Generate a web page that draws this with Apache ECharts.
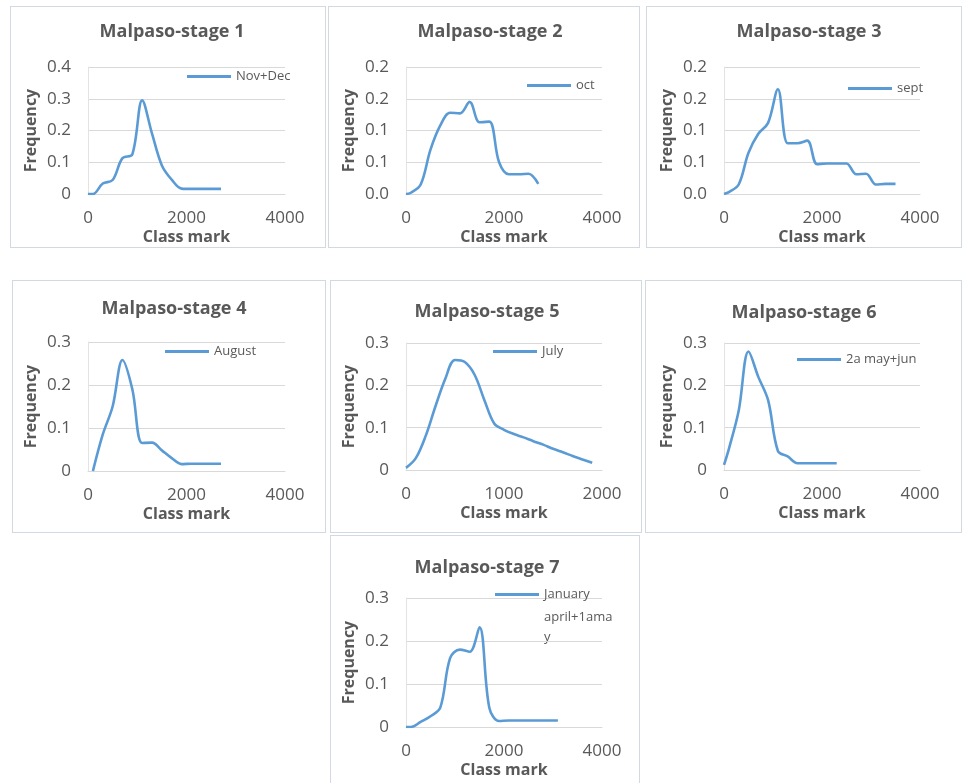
<!DOCTYPE html>
<html><head><meta charset="utf-8">
<script src="https://cdn.jsdelivr.net/npm/echarts@6/dist/echarts.min.js"></script>
<style>
html,body{margin:0;padding:0;background:#fff;}
#wrap{position:relative;width:962px;height:783px;overflow:hidden;}
.panel{position:absolute;border:1px solid #d3d9e1;box-sizing:border-box;background:#fff;}
#chart{position:absolute;left:0;top:0;width:962px;height:783px;}
</style></head>
<body><div id="wrap"><div id="chart"></div></div>
<script>
// ---------- data ----------
const stage1Class = [0, 100, 300, 500, 700, 900, 1100, 1300, 1500, 1700, 1900, 2100, 2300, 2500, 2700];
const stage1Freq  = [0, 0, 0.033, 0.044, 0.113, 0.125, 0.295, 0.19, 0.09, 0.045, 0.017, 0.016, 0.016, 0.016, 0.016];

const stage2Class = [0, 100, 300, 500, 700, 900, 1100, 1300, 1500, 1700, 1900, 2100, 2300, 2500, 2700];
const stage2Freq  = [0, 0.002, 0.015, 0.07, 0.108, 0.128, 0.127, 0.145, 0.113, 0.114, 0.05, 0.031, 0.031, 0.032, 0.016];

const stage3Class = [0, 100, 300, 500, 700, 900, 1100, 1300, 1500, 1700, 1900, 2100, 2300, 2500, 2700, 2900, 3100, 3300, 3500];
const stage3Freq  = [0, 0.003, 0.015, 0.065, 0.095, 0.112, 0.165, 0.08, 0.08, 0.084, 0.047, 0.048, 0.048, 0.048, 0.031, 0.032, 0.015, 0.016, 0.016];

const stage4Class = [100, 300, 500, 700, 900, 1100, 1300, 1500, 1700, 1900, 2100, 2300, 2500, 2700];
const stage4Freq  = [0, 0.085, 0.15, 0.258, 0.19, 0.065, 0.066, 0.048, 0.03, 0.016, 0.017, 0.017, 0.017, 0.017];

const stage5Class = [0, 100, 200, 300, 400, 500, 600, 700, 800, 900, 1000, 1100, 1200, 1300, 1400, 1500, 1600, 1700, 1800, 1900];
const stage5Freq  = [0.005, 0.028, 0.08, 0.15, 0.215, 0.26, 0.255, 0.225, 0.165, 0.11, 0.095, 0.085, 0.077, 0.068, 0.06, 0.05, 0.042, 0.033, 0.025, 0.017];

const stage6Class = [0, 100, 300, 500, 700, 900, 1100, 1300, 1500, 1700, 1900, 2100, 2300];
const stage6Freq  = [0.012, 0.05, 0.14, 0.28, 0.22, 0.165, 0.045, 0.032, 0.016, 0.016, 0.016, 0.016, 0.016];

const stage7Class = [0, 100, 300, 500, 700, 900, 1100, 1300, 1500, 1700, 1900, 2100, 2300, 2500, 2700, 2900, 3100];
const stage7Freq  = [0, 0, 0.012, 0.025, 0.045, 0.16, 0.18, 0.175, 0.232, 0.045, 0.014, 0.015, 0.015, 0.015, 0.015, 0.015, 0.015];

const stageTitles = ['Malpaso-stage 1','Malpaso-stage 2','Malpaso-stage 3','Malpaso-stage 4','Malpaso-stage 5','Malpaso-stage 6','Malpaso-stage 7'];
const seriesNames = ['Nov+Dec','oct','sept','August','July','2a may+jun','January april+1amay'];
// how each legend entry is broken into lines in the picture
const legendLines = [['Nov+Dec'],['oct'],['sept'],['August'],['July'],['2a may+jun'],['January','april+1ama','y']];

const yTicks1 = ['0','0.1','0.2','0.3','0.4'];
const yTicks2 = ['0.0','0.1','0.1','0.2','0.2'];
const yTicks3 = ['0.0','0.1','0.1','0.2','0.2'];
const yTicks4 = ['0','0.1','0.2','0.3'];
const yTicks5 = ['0','0.1','0.2','0.3'];
const yTicks6 = ['0','0.1','0.2','0.3'];
const yTicks7 = ['0','0.1','0.2','0.3'];
const xTicksWide = ['0','2000','4000'];
const xTicksNarrow = ['0','1000','2000'];
const xAxisTitle = 'Class mark';
const yAxisTitle = 'Frequency';

// ---------- layout ----------
const panelBoxes = [
  [10,6,316,242],[328,6,312,242],[646,6,316,242],
  [12,280,314,253],[330,280,312,253],[645,280,317,253],
  [330,535,310,250]
];
const panelCfg = [
  {cls:stage1Class, frq:stage1Freq, yt:yTicks1, xt:xTicksWide, ymax:0.4, yint:0.1, g:[88,67,197,127], tt:[172,32], lg:[187,79]},
  {cls:stage2Class, frq:stage2Freq, yt:yTicks2, xt:xTicksWide, ymax:0.2, yint:0.05, g:[406,67,196,127], tt:[490,32], lg:[527,88]},
  {cls:stage3Class, frq:stage3Freq, yt:yTicks3, xt:xTicksWide, ymax:0.2, yint:0.05, g:[724,67,196,127], tt:[809,32], lg:[848,91]},
  {cls:stage4Class, frq:stage4Freq, yt:yTicks4, xt:xTicksWide, ymax:0.3, yint:0.1, g:[88,342,197,129], tt:[174,309], lg:[165,354]},
  {cls:stage5Class, frq:stage5Freq, yt:yTicks5, xt:xTicksNarrow, ymax:0.3, yint:0.1, g:[406,343,196,127], tt:[487,312], lg:[493,354]},
  {cls:stage6Class, frq:stage6Freq, yt:yTicks6, xt:xTicksWide, ymax:0.3, yint:0.1, g:[724,343,196,127], tt:[804,313], lg:[797,362]},
  {cls:stage7Class, frq:stage7Freq, yt:yTicks7, xt:xTicksWide, ymax:0.3, yint:0.1, g:[406,598,196,129], tt:[487,568], lg:[495,597]}
];

const wrap = document.getElementById('wrap');
panelBoxes.forEach(b => {
  const d = document.createElement('div');
  d.className = 'panel';
  d.style.left = b[0]+'px'; d.style.top = b[1]+'px';
  d.style.width = b[2]+'px'; d.style.height = b[3]+'px';
  wrap.insertBefore(d, wrap.firstChild);
});

const TXT = '#595959';
const FONT = '"Open Sans", Lato, sans-serif';
const LINE = '#5b9bd5';
const LEG_FS = 13;

const grid = [], xAxis = [], yAxis = [], series = [], legend = [], graphic = [];
panelCfg.forEach((p, i) => {
  grid.push({left:p.g[0], top:p.g[1], width:p.g[2], height:p.g[3], containLabel:false});
  const xmax = (p.xt === xTicksNarrow) ? 2000 : 4000;
  const xint = xmax / 2;
  xAxis.push({
    type:'value', gridIndex:i, min:0, max:xmax, interval:xint,
    name:xAxisTitle, nameLocation:'middle', nameGap:35,
    nameTextStyle:{color:TXT, fontFamily:FONT, fontWeight:'bold', fontSize:16},
    axisLine:{show:true, lineStyle:{color:'#d9d9d9', width:1}},
    axisTick:{show:false}, splitLine:{show:false},
    axisLabel:{color:TXT, fontFamily:FONT, fontSize:17, margin:16,
      formatter:(v)=>p.xt[Math.round(v/xint)]}
  });
  yAxis.push({
    type:'value', gridIndex:i, min:0, max:p.ymax, interval:p.yint,
    name:yAxisTitle, nameLocation:'middle', nameGap:49,
    nameTextStyle:{color:TXT, fontFamily:FONT, fontWeight:'bold', fontSize:16},
    axisLine:{show:true, lineStyle:{color:'#e3e3e3', width:1}},
    axisTick:{show:false},
    splitLine:{show:true, lineStyle:{color:'#d9d9d9', width:1}},
    axisLabel:{color:TXT, fontFamily:FONT, fontSize:17, margin:17,
      formatter:(v)=>p.yt[Math.round(v/p.yint)]}
  });
  series.push({
    type:'line', name:seriesNames[i], xAxisIndex:i, yAxisIndex:i,
    data:p.cls.map((c,k)=>[c, p.frq[k]]),
    smooth:0.35, showSymbol:false, symbol:'none',
    lineStyle:{color:LINE, width:2.6}, itemStyle:{color:LINE},
    animation:false
  });
  const lines = legendLines[i];
  legend.push({
    data:[seriesNames[i]], left:p.lg[0], top:p.lg[1]-9, padding:0,
    icon:'rect', itemWidth:44, itemHeight:3, itemGap:4,
    selectedMode:false,
    formatter:()=>lines[0],
    textStyle:{color:TXT, fontFamily:FONT, fontSize:LEG_FS}
  });
  // continuation lines of a wrapped legend label
  for (let k = 1; k < lines.length; k++) {
    graphic.push({
      type:'text', x:p.lg[0]+44+5, y:p.lg[1]+k*20,
      style:{text:lines[k], align:'left', verticalAlign:'middle',
        font:LEG_FS+'px '+FONT, fill:TXT}
    });
  }
  graphic.push({
    type:'text', x:p.tt[0], y:p.tt[1],
    style:{text:stageTitles[i], align:'center', verticalAlign:'middle',
      font:'bold 18px '+FONT, fill:TXT}
  });
});

const chart = echarts.init(document.getElementById('chart'), null, {renderer:'canvas'});
chart.setOption({
  backgroundColor:'transparent',
  animation:false,
  grid, xAxis, yAxis, series, legend, graphic
});
</script>
</body></html>
